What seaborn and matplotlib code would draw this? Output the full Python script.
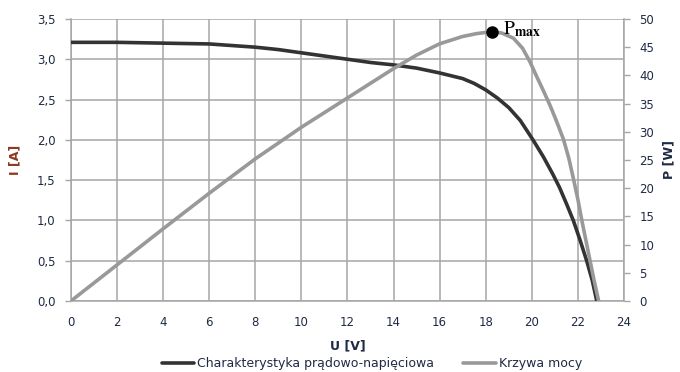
import matplotlib
matplotlib.use("Agg")
import matplotlib.pyplot as plt
import seaborn as sns
import pandas as pd
from matplotlib.lines import Line2D

# Data
u_iv = [0, 2, 4, 6, 7, 8, 9, 10, 11, 12, 13, 14, 15, 16, 17, 17.5, 18, 18.5, 19, 19.5,
        20.05, 20.5, 20.9, 21.2, 21.5, 21.8, 22.1, 22.38, 22.62, 22.82]
i_iv = [3.21, 3.21, 3.20, 3.19, 3.17, 3.15, 3.12, 3.08, 3.04, 3.00, 2.96, 2.93, 2.89, 2.83, 2.76, 2.70,
        2.62, 2.52, 2.40, 2.24, 2.00, 1.79, 1.58, 1.41, 1.21, 1.00, 0.75, 0.50, 0.26, 0.0]

u_p = [0, 2, 4, 6, 8, 10, 12, 13, 14, 15, 16, 17, 17.6, 18.26, 18.7, 19.2, 19.6, 19.92, 20.2,
       20.5, 20.8, 21.08, 21.37, 21.6, 21.8, 22.0, 22.17, 22.35, 22.53, 22.7, 22.9]
p_p = [0, 6.4, 12.8, 19.1, 25.2, 30.8, 36.0, 38.6, 41.2, 43.6, 45.6, 46.9, 47.4, 47.75, 47.5, 46.6,
       44.8, 42.4, 39.9, 37.3, 34.6, 31.8, 28.7, 25.4, 21.8, 18.0, 14.3, 10.7, 7.1, 3.7, 0.0]

pmax_u = 18.26
pmax_p = 47.75

x_ticks = list(range(0, 25, 2))
i_ticks = [0, 0.5, 1.0, 1.5, 2.0, 2.5, 3.0, 3.5]
i_tick_labels = ["0,0", "0,5", "1,0", "1,5", "2,0", "2,5", "3,0", "3,5"]
p_ticks = list(range(0, 51, 5))

series_iv = "Charakterystyka prądowo-napięciowa"
series_p = "Krzywa mocy"

sns.set_style("white")
plt.rcParams['font.family'] = ['DejaVu Sans']
plt.rcParams['mathtext.fontset'] = 'stix'

df_iv = pd.DataFrame({"U": u_iv, "I": i_iv})
df_p = pd.DataFrame({"U": u_p, "P": p_p})

fig = plt.figure(figsize=(6.8, 3.72), dpi=100)
ax = fig.add_axes([0.1044, 0.191, 0.8132, 0.758])
ax2 = ax.twinx()

c_iv = "#333333"
c_p = "#999999"
grid_c = "#a6a6a6"
tick_c = "#1f2a44"

sns.lineplot(data=df_iv, x="U", y="I", ax=ax, color=c_iv, lw=2.6, zorder=3)
sns.lineplot(data=df_p, x="U", y="P", ax=ax2, color=c_p, lw=2.6, zorder=3)
ax2.plot([pmax_u], [pmax_p], 'o', color="black", ms=8, zorder=5)
ax2.text(pmax_u + 0.5, pmax_p + 0.4, r"$\mathrm{P}_{\mathbf{max}}$", fontsize=14,
         va="center", ha="left", color="black")

ax.set_xlim(0, 24)
ax.set_ylim(0, 3.5)
ax2.set_ylim(0, 50)
ax.set_xticks(x_ticks)
ax.set_yticks(i_ticks)
ax.set_yticklabels(i_tick_labels)
ax2.set_yticks(p_ticks)

ax.grid(True, color=grid_c, lw=1.1)
ax.set_axisbelow(True)
ax2.grid(False)

for a in (ax, ax2):
    for s in a.spines.values():
        s.set_visible(False)
ax.spines['left'].set_visible(True)
ax.spines['bottom'].set_visible(True)
ax2.spines['right'].set_visible(True)
for s in (ax.spines['left'], ax.spines['bottom'], ax2.spines['right']):
    s.set_color(grid_c)
    s.set_linewidth(1.1)

ax.tick_params(axis='both', length=4, width=1.0, color=grid_c, labelsize=8.5, labelcolor=tick_c, direction='out', pad=7)
ax.tick_params(axis='x', pad=7)
ax2.tick_params(axis='y', length=4, width=1.0, color=grid_c, labelsize=8.5, labelcolor=tick_c, direction='out', pad=7)

ax.set_xlabel("U [V]", fontsize=9, fontweight="bold", color="#1f2a44", labelpad=7)
ax.set_ylabel("I [A]", fontsize=9, fontweight="bold", color="#8b3a1e", labelpad=11)
ax2.set_ylabel("P [W]", fontsize=9, fontweight="bold", color="#1f2a44", labelpad=6)

handles = [Line2D([0], [0], color=c_iv, lw=2.6), Line2D([0], [0], color=c_p, lw=2.6)]
fig.legend(handles, [series_iv, series_p], loc="lower center", bbox_to_anchor=(0.547, -0.025),
           ncol=2, frameon=False, fontsize=9, handlelength=2.6, handletextpad=0.25,
           columnspacing=2.3, labelcolor="#1f2a44")

fig.savefig("out.png", dpi=100)
